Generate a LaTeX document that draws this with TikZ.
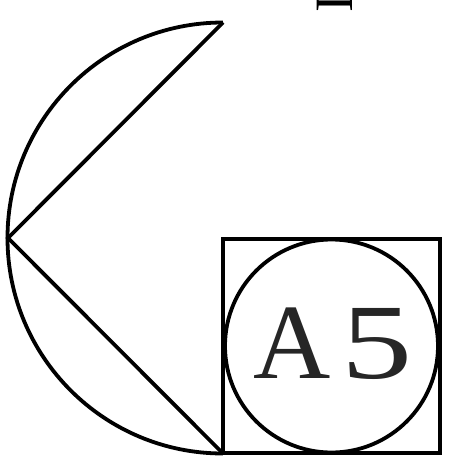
\documentclass[tikz,border=0pt]{standalone}
\usepackage{fontspec}
\usepackage{graphicx}
\setmainfont{Liberation Serif}
\tikzset{
  stroke/.style={line width=3.8pt, draw=black},
  label/.style={inner sep=0pt, text=black!85},
}
\begin{document}
\begin{tikzpicture}[x=1pt, y=-1pt]
\clip (0,0) rectangle (449,463);
\fill[white] (0,0) rectangle (449,463);
% key points
\coordinate (C) at (223,238);
\coordinate (L) at (8,238);
\coordinate (T) at (223,22.5);
\coordinate (B) at (223,453.5);
\coordinate (O) at (331.5,346);
% big half circle
\draw[stroke] (T) arc[start angle=270, end angle=90, radius=215.5];
\draw[stroke, line join=miter] (T) -- (L) -- (B);
% square with inscribed circle
\node[stroke, draw, rectangle, minimum width=217pt, minimum height=214pt, inner sep=0pt] (sq) at (O) {};
\node[stroke, draw, circle, minimum size=213pt, inner sep=0pt] (ci) at (O) {};
% label
\node[label, anchor=base west, font=\fontsize{107}{107}\selectfont] (a5) at (253,378) {A\hspace{11pt}\scalebox{1.33}[1]{5}};
% partial letter at top edge
\node[inner sep=0pt, rotate=90, font=\fontsize{54}{54}\selectfont] (cut) at (335,3.5) {I};
\end{tikzpicture}
\end{document}
